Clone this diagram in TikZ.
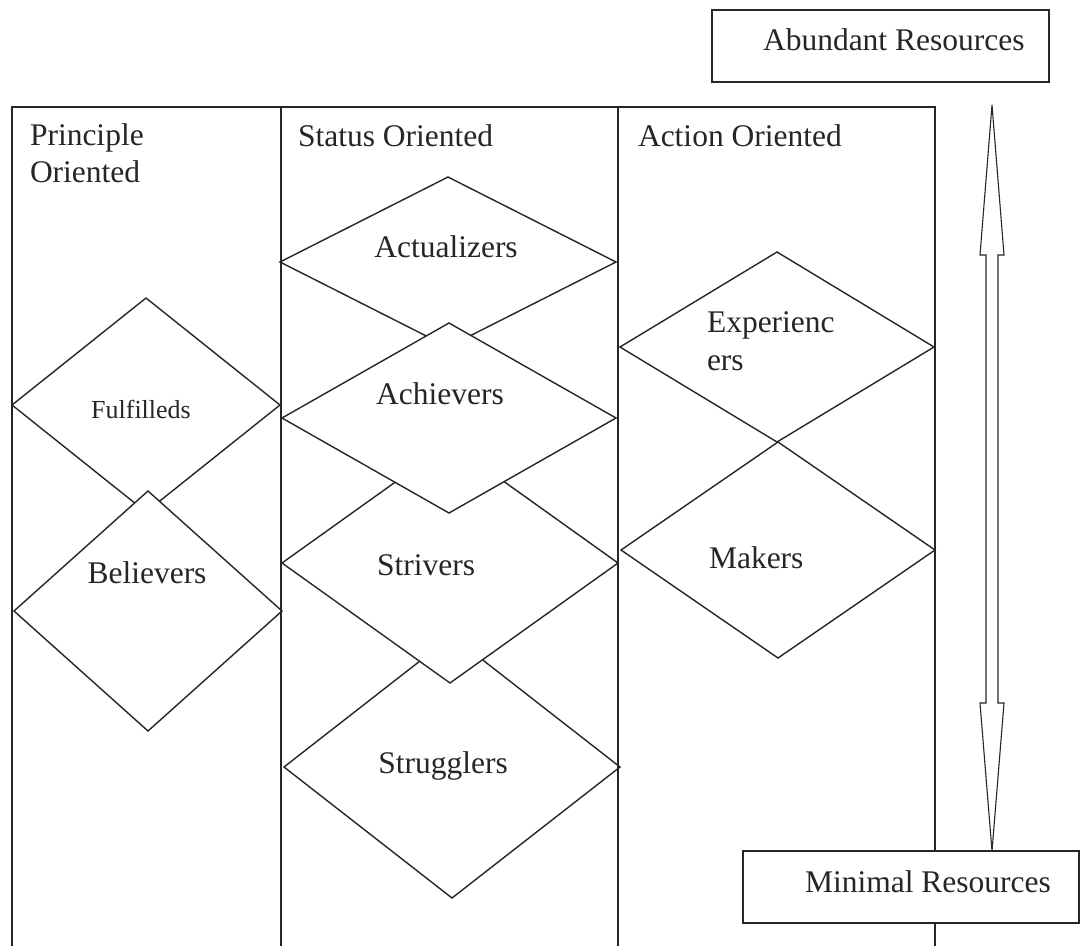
\documentclass[tikz,border=0pt]{standalone}
\usepackage{fontspec}
\setmainfont{Liberation Serif}
\usetikzlibrary{shapes.geometric}
\begin{document}
\begin{tikzpicture}[x=1pt,y=-1pt,
  ink/.style={draw=black!85,line width=1.4pt},
  seg/.style={ink,shape=diamond,inner sep=0pt,outer sep=0pt},
  segfill/.style={seg,fill=white},
  resbox/.style={ink,rectangle,inner sep=0pt,outer sep=0pt,fill=white},
  lbl/.style={inner sep=0pt,outer sep=0pt,font=\fontsize{31.5}{37}\selectfont,text=black!85},
  lblsmall/.style={lbl,font=\fontsize{26}{31}\selectfont}]
\useasboundingbox (0,0) rectangle (1083,945);
\fill[white] (0,0) rectangle (1083,945);

% principle-oriented segments
\node[seg,minimum width=268,minimum height=214] (ful) at (146,405) {};
\node[segfill,minimum width=268,minimum height=240] (bel) at (148,611) {};

% status-oriented segments (later ones cover earlier ones)
\node[segfill,minimum width=336,minimum height=170] (act) at (448,262) {};
\node[segfill,minimum width=336,minimum height=262] (strg) at (452,767) {};
\node[segfill,minimum width=336,minimum height=240] (stri) at (450,563) {};
\node[segfill,minimum width=334,minimum height=190] (ach) at (449,418) {};

% action-oriented segments
\node[seg,minimum width=314,minimum height=190] (exp) at (777,347) {};
\node[seg,minimum width=314,minimum height=216] (mak) at (778,550) {};

% the three columns, running off the lower edge
\begin{scope}
\clip (0,0) rectangle (1083,945);
\draw[ink] (12,960) -- (12,107) -- (935,107) -- (935,960);
\draw[ink] (281,107) -- (281,960);
\draw[ink] (618,107) -- (618,960);
\end{scope}

% resource boxes
\node[resbox,minimum width=337,minimum height=72] (abund) at (880.5,46) {};
\node[resbox,minimum width=336,minimum height=72] (minres) at (911,887) {};

% double-headed resource arrow
\coordinate (tipup) at (992,105);
\draw[ink,line width=1.1pt,fill=white] (tipup) -- ++(12,150) -- ++(-6,0) -- ++(0,448)
  -- ++(6,0) -- ++(-12,148) coordinate (tipdown) -- ++(-12,-148) -- ++(6,0)
  -- ++(0,-448) -- ++(-6,0) -- cycle;

% column headings
\node[lbl,anchor=base west] (hp1) at (30,145) {Principle};
\node[lbl,anchor=base west] (hp2) at (30,182) {Oriented};
\node[lbl,anchor=base west] (hs) at (298,146) {Status Oriented};
\node[lbl,anchor=base west] (ha) at (638,146) {Action Oriented};

% segment names
\node[lblsmall,anchor=base] (tful) at (141,418) {Fulfilleds};
\node[lbl,anchor=base] (tbel) at (147,583) {Believers};
\node[lbl,anchor=base] (tact) at (446,257) {Actualizers};
\node[lbl,anchor=base] (tach) at (440,404) {Achievers};
\node[lbl,anchor=base] (tstri) at (426,575) {Strivers};
\node[lbl,anchor=base] (tstrg) at (443,773) {Strugglers};
\node[lbl,anchor=base west] (texp1) at (707,332) {Experienc};
\node[lbl,anchor=base west] (texp2) at (707,370) {ers};
\node[lbl,anchor=base west] (tmak) at (709,568) {Makers};

% resource labels
\node[lbl,anchor=base west] (tabund) at (763,50) {Abundant Resources};
\node[lbl,anchor=base west] (tmin) at (805,892) {Minimal Resources};
\end{tikzpicture}
\end{document}
